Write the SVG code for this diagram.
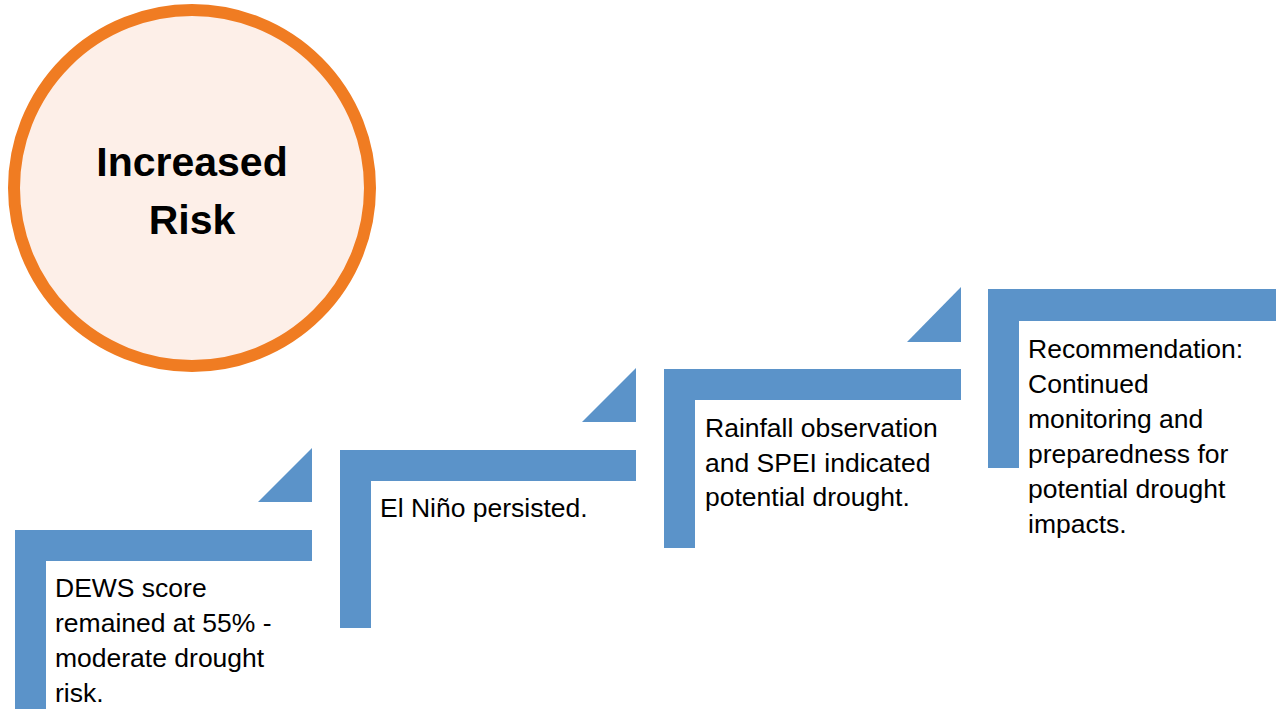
<svg xmlns="http://www.w3.org/2000/svg" width="1276" height="709" viewBox="0 0 1276 709">
<style>
.bar{fill:#5B93C9}
.txt{font-family:"Liberation Sans",Arial,sans-serif;font-size:26.5px;fill:#000}
.title{font-family:"Liberation Sans",Arial,sans-serif;font-size:41px;font-weight:bold;fill:#000;text-anchor:middle}
</style>
<rect width="1276" height="709" fill="#fff"/>
<g id="risk">
<circle cx="192" cy="188" r="178" fill="#FDEFE8" stroke="#F07C22" stroke-width="12"/>
<text class="title" x="192" y="176">Increased</text>
<text class="title" x="192" y="234">Risk</text>
</g>
<g id="step1">
<path class="bar" d="M15,530 H312 V561 H46 V709 H15 Z"/>
<polygon class="bar" points="312,448 312,502 258,502"/>
<text class="txt" x="55" y="597">DEWS score</text>
<text class="txt" x="55" y="632">remained at 55% -</text>
<text class="txt" x="55" y="667">moderate drought</text>
<text class="txt" x="55" y="702">risk.</text>
</g>
<g id="step2">
<path class="bar" d="M340,450 H636 V481 H371 V628 H340 Z"/>
<polygon class="bar" points="636,368 636,422 582,422"/>
<text class="txt" x="380" y="517">El Niño persisted.</text>
</g>
<g id="step3">
<path class="bar" d="M664,369 H961 V400 H695 V548 H664 Z"/>
<polygon class="bar" points="961,287 961,342 907,342"/>
<text class="txt" x="705" y="437">Rainfall observation</text>
<text class="txt" x="705" y="472">and SPEI indicated</text>
<text class="txt" x="705" y="506">potential drought.</text>
</g>
<g id="step4">
<path class="bar" d="M988,289 H1285 V321 H1019 V468 H988 Z"/>
<text class="txt" x="1028" y="358">Recommendation:</text>
<text class="txt" x="1028" y="393">Continued</text>
<text class="txt" x="1028" y="428">monitoring and</text>
<text class="txt" x="1028" y="463">preparedness for</text>
<text class="txt" x="1028" y="498">potential drought</text>
<text class="txt" x="1028" y="533">impacts.</text>
</g>
<g id="connectors"></g>
</svg>
